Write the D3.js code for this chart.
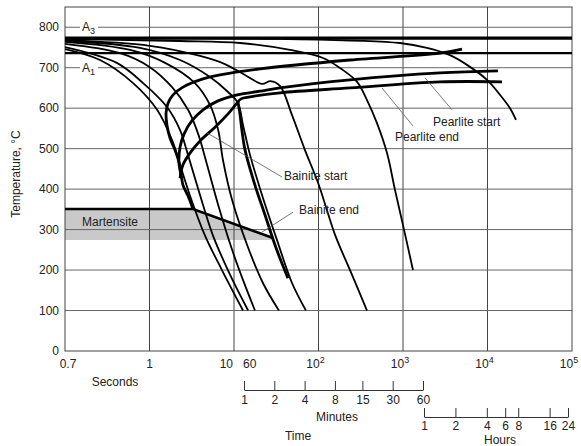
<!DOCTYPE html>
<html lang="en">
<head>
<meta charset="UTF-8">
<title>CCT diagram</title>
<script src="https://d3js.org/d3.v7.min.js"></script>
<style>
  body { margin: 0; background: #fff; }
  text { font-family: "Liberation Sans", Arial, sans-serif; fill: #222; }
</style>
</head>
<body>
<script>
// time in seconds, temperature in degC
const A3 = 773, A1 = 736;
const secTicks = [0.1, 1, 10, 100, 1000, 1e4, 1e5];
const secLabels = ["0.7", "1", "10", "10|2", "10|3", "10|4", "10|5"];
const tempTicks = [0, 100, 200, 300, 400, 500, 600, 700, 800];
const minuteTicks = [1, 2, 4, 8, 15, 30, 60];
const hourTicks = [1, 2, 4, 6, 8, 16, 24];

// cooling curves
const cool1 = [[0.1,746],[0.26,719],[0.64,662],[1.23,596],[1.85,521],[2.3,460],[3.0,385],[4.5,287],[7.2,200],[12.8,100]];
const cool2 = [[0.1,751],[0.41,712],[0.84,662],[1.61,603],[2.3,546],[2.86,484],[3.8,398],[5.6,287],[9.0,188],[14.7,100]];
const cool3 = [[0.1,759],[0.45,736],[1.0,702],[1.85,652],[2.86,596],[3.8,534],[4.8,460],[6.5,361],[9.5,250],[12.8,175],[17.7,100]];
const cool4 = [[0.1,764],[0.59,744],[1.53,712],[3.45,662],[5.2,608],[6.5,546],[7.4,472],[9.5,373],[14.3,262],[22,168],[34,100]];
const cool5 = [[0.1,766],[0.77,749],[2.3,719],[5.2,677],[8.5,640],[11.1,613],[12.8,558],[15.5,484],[21.5,385],[32.3,274],[48.6,168],[71,100]];
const cool6 = [[0.1,768],[1.01,754],[3.96,729],[7.8,709],[13.5,682],[21.5,660],[27,667],[35,655],[48.6,583],[69,497],[99,415],[157,287],[236,200],[375,100]];
const cool7 = [[0.1,771],[2.3,766],[11.8,761],[46,744],[113,724],[195,694],[286,665],[375,620],[492,563],[647,489],[804,398],[1000,311],[1313,200]];
const cool8 = [[0.1,773],[35,771],[921,761],[1923,749],[3597,731],[5717,707],[9860,670],[14060,633],[18460,600],[21740,571]];
const coolingCurves = [cool1, cool2, cool3, cool4, cool5, cool6, cool7, cool8];

// transformation curves
const outerNose = [[4990,746],[2741,736],[236,719],[20.3,697],[6.83,682],[3.96,670],[2.49,652],[1.9,633],[1.66,613],[1.57,588],[1.61,558],[1.75,526],[2.0,497],[2.23,467],[2.36,440],[2.49,410],[2.86,383],[3.27,351]];
const pearliteStart = [[13300,692],[2741,687],[236,670],[35,650],[20.3,642],[10.9,633],[6.47,618],[4.3,596],[3.18,569],[2.56,536],[2.3,504],[2.23,467],[2.36,435]];
const pearliteEnd = [[14860,665],[2741,665],[236,650],[35,638],[15.5,628],[12.1,623],[10.6,610],[8.5,586],[5.96,553],[3.96,519],[3.01,489],[2.49,460],[2.3,427]];
const bainiteEnd = [[11.1,618],[11.8,583],[12.4,546],[13.5,497],[17.7,410],[23.3,336],[31.4,255],[43.5,180]];
const msLine = [[0.1,351],[3.27,351],[29,279]];
const martBand = [[0.1,351],[3.27,351],[29,279],[29,274],[0.1,274]];

// labels: [text, time, temp], leaders: [[t,T],[t,T]]
const labels = [["Bainite start",39,432],["Bainite end",58.8,348],["Pearlite start",2265,566],["Pearlite end",804,529],["Martensite",0.159,319]];
const leaders = [[[37,430],[4.79,539]],[[49.9,343],[21.5,294]],[[3800,596],[1820,675]],[[1313,556],[564,650]]];

const W = 581, H = 446;
const svg = d3.select("body").append("svg").attr("width", W).attr("height", H);
const x = d3.scaleLog().domain([0.1, 1e5]).range([65, 572]);
const y = d3.scaleLinear().domain([0, 850]).range([351, 7]);
const xm = d3.scaleLog().domain([1, 60]).range([244, 423]);
const xh = d3.scaleLog().domain([1, 24]).range([424, 568]);

svg.append("defs").append("clipPath").attr("id", "plot")
  .append("rect").attr("x", 65).attr("y", 7).attr("width", 507).attr("height", 344);

const line = d3.line().x(d => x(d[0])).y(d => y(d[1])).curve(d3.curveCatmullRom.alpha(0.5));
const straight = d3.line().x(d => x(d[0])).y(d => y(d[1]));

// martensite band
svg.append("path").attr("d", straight(martBand) + "Z").attr("fill", "#c9c9c9");

// grid
svg.selectAll(".vg").data(secTicks.slice(1, -1)).join("line")
  .attr("x1", d => x(d)).attr("x2", d => x(d)).attr("y1", y(0)).attr("y2", y(850))
  .attr("stroke", "#444").attr("stroke-width", 1);
svg.selectAll(".hg").data(tempTicks.slice(1)).join("line")
  .attr("x1", x(0.1)).attr("x2", x(1e5)).attr("y1", d => y(d)).attr("y2", d => y(d))
  .attr("stroke", "#666").attr("stroke-width", 1);
svg.append("rect").attr("x", x(0.1)).attr("y", y(850)).attr("width", x(1e5) - x(0.1)).attr("height", y(0) - y(850))
  .attr("fill", "none").attr("stroke", "#444").attr("stroke-width", 1);

// A3 / A1
svg.append("line").attr("x1", x(0.1)).attr("x2", x(1e5)).attr("y1", y(A3)).attr("y2", y(A3))
  .attr("stroke", "#000").attr("stroke-width", 3.2);
svg.append("line").attr("x1", x(0.1)).attr("x2", x(1e5)).attr("y1", y(A1)).attr("y2", y(A1))
  .attr("stroke", "#000").attr("stroke-width", 2.4);
[["3", 800], ["1", 700]].forEach(([s, t]) => {
  svg.append("rect").attr("x", 80).attr("y", y(t) - 7).attr("width", 18).attr("height", 14).attr("fill", "#fff");
  const tx = svg.append("text").attr("x", 82).attr("y", y(t) + 4).attr("font-size", 12);
  tx.append("tspan").text("A");
  tx.append("tspan").attr("font-size", 9).attr("dy", 3).text(s);
});

const g = svg.append("g").attr("clip-path", "url(#plot)");
g.selectAll(".cool").data(coolingCurves).join("path")
  .attr("d", line).attr("fill", "none").attr("stroke", "#000").attr("stroke-width", 1.8);
g.selectAll(".tr").data([outerNose, pearliteStart, pearliteEnd, bainiteEnd]).join("path")
  .attr("d", line).attr("fill", "none").attr("stroke", "#000").attr("stroke-width", 2.8).attr("stroke-linejoin", "round");
g.append("path").attr("d", straight(msLine)).attr("fill", "none").attr("stroke", "#000").attr("stroke-width", 2.6);

// leaders and labels
svg.selectAll(".ld").data(leaders).join("path")
  .attr("d", straight).attr("stroke", "#555").attr("stroke-width", 0.8).attr("fill", "none");
svg.selectAll(".lb").data(labels).join("text")
  .attr("x", d => x(d[1])).attr("y", d => y(d[2])).attr("dy", "0.35em").attr("font-size", 12).text(d => d[0]);

// y axis labels
svg.selectAll(".yl").data(tempTicks).join("text")
  .attr("x", 59).attr("y", d => y(d)).attr("dy", "0.35em").attr("text-anchor", "end").attr("font-size", 12).text(d => d);
svg.append("text").attr("transform", "translate(20,174) rotate(-90)").attr("text-anchor", "middle")
  .attr("font-size", 12).text("Temperature, °C");

// x axis labels (seconds)
secTicks.forEach((t, i) => {
  const [base, sup] = secLabels[i].split("|");
  let px = x(t), anchor = "middle";
  if (i === 0) px += 3;
  if (i === 2) { px -= 1; anchor = "end"; }
  const tx = svg.append("text").attr("x", sup ? px - 3 : px).attr("y", 368).attr("text-anchor", anchor).attr("font-size", 12);
  tx.append("tspan").text(base);
  if (sup) tx.append("tspan").attr("font-size", 9).attr("dy", -5).text(sup);
});
svg.append("text").attr("x", x(10) + 9).attr("y", 368).attr("font-size", 12).text("60");
svg.append("text").attr("x", 115).attr("y", 386).attr("text-anchor", "middle").attr("font-size", 12).text("Seconds");

// minutes / hours axes
const minAxis = d3.axisBottom(xm).tickValues(minuteTicks).tickFormat(d3.format("d")).tickSize(-9).tickSizeOuter(0).tickPadding(5);
const hourAxis = d3.axisBottom(xh).tickValues(hourTicks).tickFormat(d3.format("d")).tickSize(-9).tickSizeOuter(0).tickPadding(4);
[[minAxis, 390], [hourAxis, 417]].forEach(([ax, ty]) => {
  const a = svg.append("g").attr("transform", `translate(0,${ty})`).call(ax);
  a.selectAll("path,line").attr("stroke", "#333");
  a.selectAll("text").attr("font-size", 12).attr("font-family", "Liberation Sans, Arial, sans-serif").attr("fill", "#222");
});
svg.append("text").attr("x", 337).attr("y", 421).attr("text-anchor", "middle").attr("font-size", 12).text("Minutes");
svg.append("text").attr("x", 298).attr("y", 440).attr("text-anchor", "middle").attr("font-size", 12).text("Time");
svg.append("text").attr("x", 500).attr("y", 444).attr("text-anchor", "middle").attr("font-size", 12).text("Hours");
</script>
</body>
</html>
